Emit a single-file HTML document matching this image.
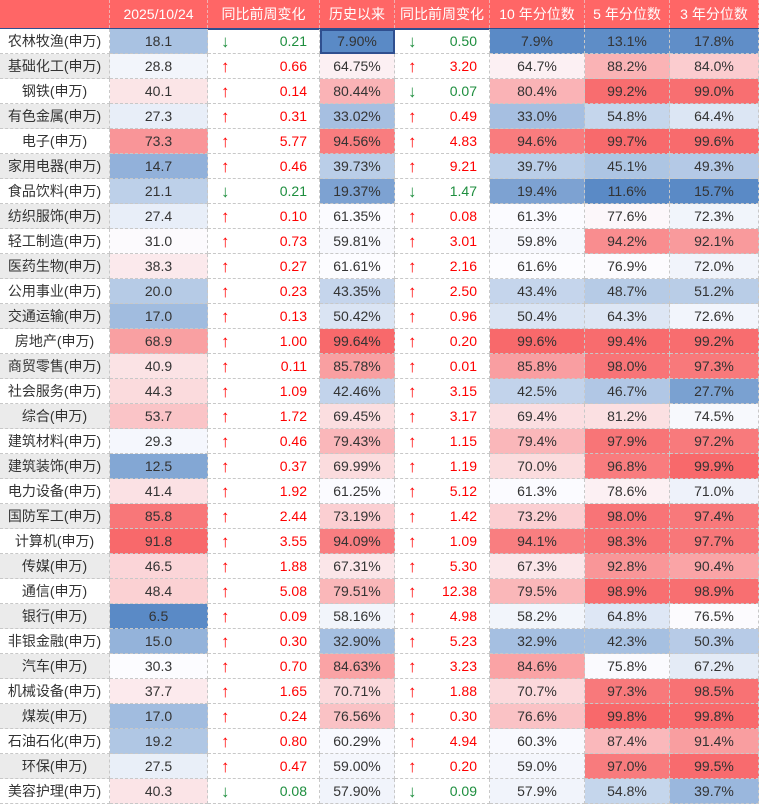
<!DOCTYPE html>
<html><head><meta charset="utf-8">
<style>
html,body{margin:0;padding:0;background:#fff;}
#t{position:relative;width:759px;height:804px;overflow:hidden;font-family:"Liberation Sans","Noto Sans CJK SC",sans-serif;font-size:14px;color:#333;}
.c{position:absolute;box-sizing:border-box;height:25px;line-height:25px;text-align:center;border-right:1px dashed #c8c8c8;border-bottom:1px dashed #c8c8c8;white-space:nowrap;}
.h{background:#ff6666;color:#fff;height:28px;line-height:28px;font-size:14px;border-right:1px dashed #f0b0b0;border-bottom:none;}
.arr{position:absolute;left:13px;font-size:17px;}
.num{position:absolute;right:12px;}
.up{color:#f00;} .dn{color:#1e8e3e;}
#hl{position:absolute;left:0;top:28px;width:759px;height:2px;background:#2f4f8f;}
</style></head><body>
<div id="t"></div>
<script>
const names=["农林牧渔","基础化工","钢铁","有色金属","电子","家用电器","食品饮料","纺织服饰","轻工制造","医药生物","公用事业","交通运输","房地产","商贸零售","社会服务","综合","建筑材料","建筑装饰","电力设备","国防军工","计算机","传媒","通信","银行","非银金融","汽车","机械设备","煤炭","石油石化","环保","美容护理"];
const pe=[18.1,28.8,40.1,27.3,73.3,14.7,21.1,27.4,31.0,38.3,20.0,17.0,68.9,40.9,44.3,53.7,29.3,12.5,41.4,85.8,91.8,46.5,48.4,6.5,15.0,30.3,37.7,17.0,19.2,27.5,40.3];
const chg1=[-0.21,0.66,0.14,0.31,5.77,0.46,-0.21,0.10,0.73,0.27,0.23,0.13,1.00,0.11,1.09,1.72,0.46,0.37,1.92,2.44,3.55,1.88,5.08,0.09,0.30,0.70,1.65,0.24,0.80,0.47,-0.08];
const hist=[7.90,64.75,80.44,33.02,94.56,39.73,19.37,61.35,59.81,61.61,43.35,50.42,99.64,85.78,42.46,69.45,79.43,69.99,61.25,73.19,94.09,67.31,79.51,58.16,32.90,84.63,70.71,76.56,60.29,59.00,57.90];
const chg2=[-0.50,3.20,-0.07,0.49,4.83,9.21,-1.47,0.08,3.01,2.16,2.50,0.96,0.20,0.01,3.15,3.17,1.15,1.19,5.12,1.42,1.09,5.30,12.38,4.98,5.23,3.23,1.88,0.30,4.94,0.20,-0.09];
const p10=[7.9,64.7,80.4,33.0,94.6,39.7,19.4,61.3,59.8,61.6,43.4,50.4,99.6,85.8,42.5,69.4,79.4,70.0,61.3,73.2,94.1,67.3,79.5,58.2,32.9,84.6,70.7,76.6,60.3,59.0,57.9];
const p5=[13.1,88.2,99.2,54.8,99.7,45.1,11.6,77.6,94.2,76.9,48.7,64.3,99.4,98.0,46.7,81.2,97.9,96.8,78.6,98.0,98.3,92.8,98.9,64.8,42.3,75.8,97.3,99.8,87.4,97.0,54.8];
const p3=[17.8,84.0,99.0,64.4,99.6,49.3,15.7,72.3,92.1,72.0,51.2,72.6,99.2,97.3,27.7,74.5,97.2,99.9,71.0,97.4,97.7,90.4,98.9,76.5,50.3,67.2,98.5,99.8,91.4,99.5,39.7];
const headers=["","2025/10/24","同比前周变化","历史以来","同比前周变化","10 年分位数","5 年分位数","3 年分位数"];
const colX=[0,110,208,320,395,490,585,670,759];
const HH=29,RH=25;
const T=document.getElementById('t');
function scale(arr,useMedian){
  const mn=Math.min(...arr),mx=Math.max(...arr);
  const so=[...arr].sort((a,b)=>a-b);
  const mid=useMedian?so[Math.floor(so.length/2)]:arr.reduce((a,b)=>a+b,0)/arr.length;
  const lo=[90,138,198],w=[252,252,255],hi=[248,105,107];
  return v=>{let a,b,t;
    if(v<=mid){t=(v-mn)/(mid-mn||1);a=lo;b=w;} else {t=(v-mid)/(mx-mid||1);a=w;b=hi;}
    return 'rgb('+a.map((x,i)=>Math.round(x+(b[i]-x)*t)).join(',')+')';};
}
function cell(col,row,cls){
  const d=document.createElement('div');
  d.className='c '+(cls||'');
  d.style.left=colX[col]+'px';
  d.style.width=(colX[col+1]-colX[col])+'px';
  d.style.top=(row<0?0:HH+row*RH)+'px';
  T.appendChild(d);return d;
}
headers.forEach((h,i)=>{
  const d=cell(i,-1,'h');d.textContent=h;
  
  
});
const hl=document.createElement('div');hl.id='hl';T.appendChild(hl);


const sPe=scale(pe,true),sH=scale(hist,true),s10=scale(p10,true),s5=scale(p5,false),s3=scale(p3,false);
function chgCell(col,r,v,nm){
  const d=cell(col,r);
  
  
  const up=v>=0;
  d.innerHTML='<span class="arr '+(up?'up':'dn')+'">'+(up?'↑':'↓')+'</span><span class="num '+(up?'up':'dn')+'">'+Math.abs(v).toFixed(2)+'</span>';
}
names.forEach((n,r)=>{
  let d=cell(0,r);d.textContent=n+'(申万)';
  d.style.background=r%2?'#ebebeb':'#fff';
  
  
  d=cell(1,r);d.textContent=pe[r].toFixed(1);d.style.background=sPe(pe[r]);
  
  
  chgCell(2,r,chg1[r],'pe-change');
  d=cell(3,r);d.textContent=hist[r].toFixed(2)+'%';d.style.background=sH(hist[r]);
  
  
  if(r===0){d.style.outline='2px solid #2f4f8f';d.style.outlineOffset='-2px';}
  chgCell(4,r,chg2[r],'percentile-change');
  d=cell(5,r);d.textContent=p10[r].toFixed(1)+'%';d.style.background=s10(p10[r]);
  
  
  d=cell(6,r);d.textContent=p5[r].toFixed(1)+'%';d.style.background=s5(p5[r]);
  
  
  d=cell(7,r);d.textContent=p3[r].toFixed(1)+'%';d.style.background=s3(p3[r]);
  
  
});
</script>
</body></html>
